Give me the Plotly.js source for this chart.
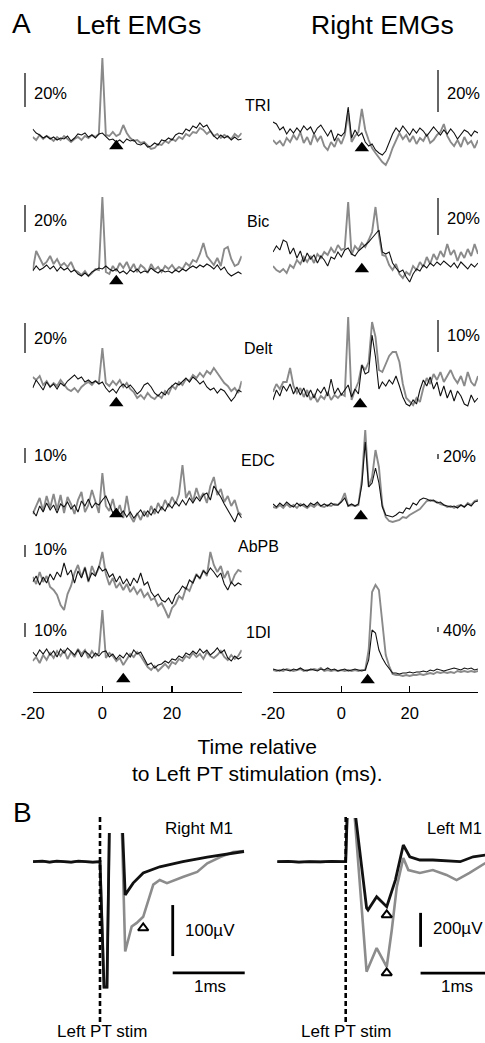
<!DOCTYPE html>
<html><head><meta charset="utf-8">
<script src="https://cdn.plot.ly/plotly-3.0.1.min.js"></script>
<style>html,body{margin:0;padding:0;background:#fff}#chart{width:485px;height:1043px}</style>
</head><body><div id="chart"></div>
<script>
// ---------- DATA ----------
// Panel A: time (ms) relative to Left PT stimulation
const t = [-20,-19,-18,-17,-16,-15,-14,-13,-12,-11,-10,-9,-8,-7,-6,-5,-4,-3,-2,-1,0,1,2,3,4,5,6,7,8,9,10,11,12,13,14,15,16,17,18,19,20,21,22,23,24,25,26,27,28,29,30,31,32,33,34,35,36,37,38,39,40];
const tickVals = [-20, 0, 20, 40];
const tickText = ['-20', '0', '20', ''];
const muscles = ['TRI', 'Bic', 'Delt', 'EDC', 'AbPB', '1DI'];
const scaleLeft = ['20%', '20%', '20%', '10%', '10%', '10%'];
const scaleRight = ['20%', '20%', '10%', '20%', null, '40%'];
const onsetLeft = [4, 4, 4, 4, null, 6];
const onsetRight = [6, 6, 5.5, 5.7, null, 7.7];

// Left EMGs (amplitude, relative units; black = one condition, gray = other)
const triL_black = [8,4,2,-1,1,-2,0,-3,-1,-2, 1,-4,-1,3,2,4,0,2,-1,3, 4,0,-3,-2,-5,-3,-6,-2,-4,-3, -7,-8,-6,-10,-9,-6,-8,-3,-4,-1, -3,2,4,3,8,6,11,9,14,10, 12,6,1,-2,2,-1,1,-3,0,-3,-2];
const triL_gray  = [0,-3,2,-2,1,-1,-4,0,-3,1, -2,-5,-2,0,-3,1,-1,2,0,3, 79,2,1,5,1,3,12,4,-1,-4, -3,-6,-5,-9,-12,-11,-7,-8,-4,-6, -2,-4,0,-2,3,1,5,4,9,7, 3,6,1,3,-1,2,0,-2,3,0,4];
const bicL_black = [-3,2,-2,0,3,-1,2,-3,1,-2, 0,-4,-2,-6,-8,-5,-8,-4,-2,0, -1,2,-1,-3,-1,-5,-3,-6,-2,-4, -1,-5,-3,-4,0,-3,-5,-2,-4,-3, -5,-2,-4,-1,-3,0,2,0,3,1, 4,2,-1,3,-2,1,-5,-8,-6,-4,-6];
const bicL_gray  = [-2,17,10,3,6,12,4,9,2,5, 1,6,-2,-4,-7,-3,-8,-5,-1,-2, 71,-4,-6,2,-3,5,0,6,-2,4, -4,3,0,-5,4,-2,1,-4,2,-1, 3,-2,1,-1,5,2,8,6,14,25, 12,8,3,10,2,19,21,9,2,4,12];
const deltL_black = [-5,3,-2,-7,1,-4,-1,-6,0,-3, 2,5,8,4,6,1,3,0,2,-1, 1,-5,-9,-6,-10,-4,-1,-5,-2,-6, -11,-8,-2,0,-4,-10,-13,-9,-12,-6, -3,0,-2,2,5,1,6,3,-1,2, -4,-7,-5,-10,-6,-8,-13,-18,-14,-7,-9];
const deltL_gray  = [6,3,7,-2,2,-4,0,-3,3,-1, -6,-8,-5,-9,-4,-1,1,-2,2,0, 35,0,-3,2,-2,3,-4,0,-6,-9, -15,-12,-16,-10,-14,-16,-12,-15,-8,-11, -3,-6,1,-2,4,2,8,5,10,6, 12,9,15,10,5,0,-3,-8,-5,-10,2];
const edcL_black = [-3,-8,2,-4,5,-2,3,-5,4,1, 6,-1,3,-4,7,2,9,0,5,3, 8,12,4,-5,-1,-7,-3,-9,-4,-10, -6,-2,-8,-3,-7,-1,-5,1,-3,4, 0,6,2,8,3,10,5,11,7,13, 15,8,22,17,11,4,-2,-8,-14,-5,-10];
const edcL_gray  = [-6,2,10,-3,12,0,14,-2,13,-5, 11,4,-6,8,16,-4,3,18,6,-5, 35,2,-3,9,-6,3,-10,12,-8,-14, -5,-12,-3,-9,2,-6,5,-2,8,1, 11,4,14,43,10,17,6,20,9,15, 5,22,31,13,19,6,12,2,8,-4,-7];
const abpbL_black = [-2,4,-5,3,-3,6,0,8,3,17, 5,10,-3,9,2,12,-1,7,4,14, 9,11,3,6,-2,4,-4,1,-6,2, -3,7,-5,-2,-12,-17,-14,-20,-22,-18, -24,-15,-12,-6,-9,0,-3,5,2,9, 6,12,8,3,7,-4,-10,-2,-6,-3,-5];
const abpbL_gray  = [3,-4,8,-2,4,-7,-10,-15,-25,-30, -14,-6,7,15,3,13,-2,14,5,12, 28,6,-5,2,-8,-3,-10,-4,-12,-7, -14,-9,-17,-13,-20,-18,-26,-23,-30,-38, -28,-24,-16,-19,-8,-11,-2,6,1,10, 4,28,15,8,14,2,9,-4,5,10,8];
const di1L_black = [3,-1,5,1,6,0,4,-2,6,2, 7,3,0,5,-2,4,1,-3,2,-1, 3,4,-2,1,-4,0,-3,2,-2,5, 1,3,-4,-10,-8,-13,-10,-9,-6,-8, -4,-5,-1,-3,2,0,4,1,6,2, 5,0,3,7,2,5,-3,-6,-1,-4,-2];
const di1L_gray  = [-6,-2,-8,0,-5,2,-3,4,-1,5, -4,3,-2,6,1,5,-3,4,-1,2, 45,-3,2,-1,-6,-3,-10,-5,1,-2, 3,-1,-7,-12,-15,-11,-16,-12,-9,-13, -7,-9,-4,-6,-1,-3,2,-2,1,-4, 3,-1,-3,0,4,-2,-5,0,-4,-1,5];

// Right EMGs
const triR_black = [16,14,8,11,4,9,5,10,6,12, 8,11,4,10,13,7,2,8,-3,4, 2,6,31,0,8,2,5,-4,-8,-6, -12,-15,-17,-13,-5,4,10,6,12,8, 3,9,5,10,7,2,6,11,7,3, 8,4,9,5,-1,3,8,6,2,7,5];
const triR_gray  = [-2,-6,-3,-8,0,-4,3,-2,6,-5, 1,-7,4,-3,2,-8,-12,-4,-9,0, -6,3,25,-4,2,6,29,8,-2,-10, -15,-20,-24,-27,-20,-10,-2,5,-1,3, -4,2,-6,0,-3,4,-5,-2,3,6, 14,2,-4,-8,-2,-9,1,-6,-3,-10,-2];
const bicR_black = [8,14,10,20,18,6,12,2,9,-2, 7,1,5,-3,4,0,-6,3,1,8, 3,10,12,6,4,9,12,15,18,22, 26,30,8,6,8,-3,-8,-12,-10,-17, -22,-14,-9,-11,-5,-8,-3,-6,-2,-5, -1,-4,-7,-3,-8,-2,-5,-9,-4,-7,-3];
const bicR_gray  = [-6,-10,-12,-9,-13,-5,-8,0,-4,3, -2,4,-3,6,2,8,5,12,7,15, 10,12,58,5,14,10,17,13,20,28, 53,25,5,4,-5,-10,-4,-14,-18,-12, -15,-6,-10,-2,-7,3,-4,6,0,9, 3,16,5,10,-1,8,2,11,4,16,6];
const deltR_black = [-8,2,-4,6,1,8,-2,5,-3,4, -5,2,-6,3,-1,5,-4,13,-2,4, -3,2,7,-5,3,-2,27,18,20,57, 35,3,10,6,12,8,16,6,-5,-12, -14,-8,-12,2,12,6,15,3,10,-4, 6,-6,2,-9,1,-4,-12,-14,-3,-10,-6];
const deltR_gray  = [0,8,3,10,10,24,6,-1,4,-5, 2,-8,-3,-10,-4,-7,0,-8,-3,-6, -2,-4,75,-8,2,10,27,22,30,70, 55,22,20,28,36,40,40,30,8,-6, -10,-13,-6,-10,4,14,8,18,12,20, 10,16,22,14,9,16,6,20,10,6,16];
const edcR_black = [1,-2,2,-1,3,0,-2,2,-1,1, -2,2,0,3,-1,1,-1,2,0,0, 3,7,-1,1,-1,1,20,63,18,22, 37,22,-2,-10,-11,-12,-10,-7,-8,-3, -4,2,0,5,7,6,4,5,2,3, 0,-1,-2,-1,-3,0,-2,1,-1,3,4];
const edcR_gray  = [-2,-3,0,-3,1,-2,0,-3,1,-1, -3,0,-2,1,-1,-2,0,-1,1,0, 4,12,-1,0,-1,0,25,75,18,28, 55,38,0,-12,-16,-17,-16,-15,-12,-13, -10,-8,-6,-4,0,4,5,4,3,1, 0,-2,-1,-3,-1,0,-2,2,0,4,5];
const di1R_black = [1,0,-1,1,0,-1,1,0,2,0, -1,1,0,-1,1,0,2,0,1,-1, 0,1,-1,0,1,0,-1,0,10,40, 37,20,12,6,1,-3,-3,-4,-3,-3, -2,-3,-2,-2,-1,-2,0,-1,1,0, -1,0,1,2,1,0,2,1,2,0,1];
const di1R_gray  = [0,-1,0,-1,1,0,-1,0,1,-1, 0,0,1,0,2,-1,0,-1,0,-1, 0,-1,0,-1,0,-1,0,0,20,78, 85,80,50,15,4,-4,-5,-5,-6,-5, -6,-5,-5,-4,-5,-4,-3,-4,-2,-3, -2,-3,-2,-3,-1,-2,-1,-2,-1,-2,-1];

// Panel B: cortical responses (time in ms, amplitude in microvolts)
const rM1_tBlack = [-0.93,-0.8,-0.7,-0.6,-0.5,-0.4,-0.3,-0.2,-0.1,0,0.056,0.097,0.139,0.2875,0.35,0.46,0.6,0.83,1.15,1.49,1.85,2.0];
const rM1_black  = [0,1,-1,1,0,-1,1,0,-1,0,-246,-246,150,150,-65,-42,-22,-10,0,9,17,20];
const rM1_tGray  = [-0.93,-0.8,-0.7,-0.6,-0.5,-0.4,-0.3,-0.2,-0.1,0,0.056,0.097,0.139,0.2875,0.35,0.44,0.51,0.6,0.67,0.74,0.83,0.93,1.15,1.35,1.49,1.67,1.85,2.0];
const rM1_gray   = [0,1,-1,1,0,-1,1,0,-1,0,-246,-246,150,150,-176,-127,-120,-108,-75,-45,-36,-42,-30,-20,-3,9,19,21];
const rM1_markT = [0.6];
const rM1_markV = [-130];
const lM1_tBlack = [-0.95,-0.8,-0.65,-0.5,-0.35,-0.2,-0.05,0,0.03,0.1,0.29,0.31,0.43,0.57,0.69,0.8,0.89,1.03,1.21,1.59,1.77,1.94];
const lM1_black  = [0,2,-2,1,-1,2,0,0,400,400,-272,-284,-206,-265,-108,98,29,10,10,0,29,39];
const lM1_tGray  = [-0.95,-0.8,-0.65,-0.5,-0.35,-0.2,-0.05,0,0.03,0.1,0.29,0.43,0.57,0.64,0.71,0.8,0.87,1.03,1.21,1.4,1.54,1.72,1.94];
const lM1_gray   = [0,2,-2,1,-1,2,0,0,400,400,-647,-508,-618,-402,-147,22,-49,-66,-49,-78,-108,-66,-8];
const lM1_markT = [0.57, 0.57];
const lM1_markV = [-313, -654];

// ---------- LAYOUT HELPERS ----------
const W = 485, H = 1043;
const fx = p => p / W;
const fy = p => 1 - p / H;
const GRAY = '#8a8a8a', BLACK = '#111';
const FONT = 'Liberation Sans, Arial, Helvetica, sans-serif';
function axPaper(ax, v) { const d = ax.domain, r = ax.range; return d[0] + (v - r[0]) / (r[1] - r[0]) * (d[1] - d[0]); }

// per-subplot geometry (pixels): plot band top/bottom, baseline, triangle offset, scale bar (units rel. baseline)
const rowsLeft = [
  {black: triL_black, gray: triL_gray, top: 50, bot: 160, base: 137, triDy: -9, bar: [30, 64], pctY: 93},
  {black: bicL_black, gray: bicL_gray, top: 190, bot: 290, base: 268, triDy: -13, bar: [36, 63], pctY: 220},
  {black: deltL_black, gray: deltL_gray, top: 330, bot: 415, base: 383, triDy: -20, bar: [30, 60], pctY: 338},
  {black: edcL_black, gray: edcL_gray, top: 455, bot: 530, base: 508, triDy: -6, bar: [45, 60], pctY: 455},
  {black: abpbL_black, gray: abpbL_gray, top: 540, bot: 625, base: 580, triDy: 0, bar: [23, 35], pctY: 549},
  {black: di1L_black, gray: di1L_gray, top: 605, bot: 691.7, base: 655, triDy: -24, bar: [18, 32], pctY: 630}
];
const rowsRight = [
  {black: triR_black, gray: triR_gray, top: 95, bot: 175, base: 138, triDy: -10, bar: [26, 68], pctY: 93, pctX: 445},
  {black: bicR_black, gray: bicR_gray, top: 195, bot: 290, base: 260, triDy: -9, bar: [25, 62], pctY: 218, pctX: 445},
  {black: deltR_black, gray: deltR_gray, top: 305, bot: 415, base: 392, triDy: -12, bar: [40, 72], pctY: 335, pctX: 445},
  {black: edcR_black, gray: edcR_gray, top: 420, bot: 530, base: 505, triDy: -11, bar: [46, 51], pctY: 456, pctX: 441},
  null,
  {black: di1R_black, gray: di1R_gray, top: 575, bot: 691.7, base: 670, triDy: -10, bar: [38, 43], pctY: 630, pctX: 441}
];
const labelY = [106, 221.5, 349, 460, 546.5, 632.5];

const traces = [];
const layout = {
  width: W, height: H, margin: {l: 0, r: 0, t: 0, b: 0},
  paper_bgcolor: '#fff', plot_bgcolor: 'rgba(0,0,0,0)', showlegend: false,
  font: {family: FONT, color: '#000'}, shapes: [], annotations: [], hovermode: false
};
const xBase = {
  range: [-20, 40], anchor: 'free', position: fy(691.7), showline: true, linecolor: '#000', linewidth: 1.2,
  ticks: 'inside', ticklen: 6, tickwidth: 1.2, tickcolor: '#000', tickvals: tickVals, ticktext: tickText,
  tickfont: {size: 16.5, family: FONT, color: '#000'}, showgrid: false, zeroline: false, fixedrange: true,
  ticklabelstandoff: 6
};
layout.xaxis = Object.assign({}, xBase, {domain: [fx(32.7), fx(241.7)]});
layout.xaxis2 = Object.assign({}, xBase, {domain: [fx(273), fx(478)]});

function ann(text, x, y, size, xanchor, extra) {
  layout.annotations.push(Object.assign({text, x: fx(x), y: fy(y), xref: 'paper', yref: 'paper', showarrow: false,
    xanchor: xanchor || 'center', yanchor: 'middle', font: {size, family: FONT, color: '#000'}}, extra || {}));
}

let yi = 0;
function addRow(r, col, idx) {
  yi += 1;
  const ykey = yi === 1 ? 'yaxis' : 'yaxis' + yi;
  const yref = yi === 1 ? 'y' : 'y' + yi;
  const xref = col === 0 ? 'x' : 'x2';
  const ax = {domain: [fy(r.bot), fy(r.top)], range: [-(r.bot - r.base), r.base - r.top], visible: false, fixedrange: true, anchor: xref};
  layout[ykey] = ax;
  traces.push({x: t, y: r.gray, xaxis: xref, yaxis: yref, mode: 'lines', line: {color: GRAY, width: 1.9}});
  traces.push({x: t, y: r.black, xaxis: xref, yaxis: yref, mode: 'lines', line: {color: BLACK, width: 1.1}});
  const onset = col === 0 ? onsetLeft[idx] : onsetRight[idx];
  if (onset != null) {
    traces.push({x: [onset], y: [r.triDy], xaxis: xref, yaxis: yref, mode: 'markers', cliponaxis: false,
      marker: {symbol: 'triangle-up', size: 12.5, color: '#000'}});
  }
  const bx = col === 0 ? 25 : 438;
  layout.shapes.push({type: 'line', xref: 'paper', yref: 'paper', x0: fx(bx), x1: fx(bx),
    y0: axPaper(ax, r.bar[0]), y1: axPaper(ax, r.bar[1]), line: {color: '#333', width: 1.5}});
  const txt = col === 0 ? scaleLeft[idx] : scaleRight[idx];
  layout.annotations.push({text: txt, x: fx(col === 0 ? 32 : r.pctX), y: fy(r.pctY), xref: 'paper', yref: 'paper',
    showarrow: false, xanchor: 'left', yanchor: 'middle', font: {size: 16.5, family: FONT, color: '#000'}});
}
rowsLeft.forEach((r, i) => addRow(r, 0, i));
rowsRight.forEach((r, i) => { if (r) addRow(r, 1, i); });
muscles.forEach((m, i) => ann(m, 258, labelY[i], 16));

// Panel A headings
ann('A', 21, 23, 28);
ann('Left EMGs', 138, 25, 26.5);
ann('Right EMGs', 382.5, 25, 26.5);
ann('Time relative<br>to Left PT stimulation (ms).', 257, 759.5, 21);

// ---------- PANEL B ----------
function addB(xkey, xref, ykey, yref, pxX, stimPx, pxPerMs, pxTop, pxBot, base, pxPerUv, series, marks) {
  const xa = {domain: [fx(pxX[0]), fx(pxX[1])], range: [(pxX[0] - stimPx) / pxPerMs, (pxX[1] - stimPx) / pxPerMs],
    visible: false, fixedrange: true, anchor: yref};
  const ya = {domain: [fy(pxBot), fy(pxTop)], range: [-(pxBot - base) / pxPerUv, (base - pxTop) / pxPerUv],
    visible: false, fixedrange: true, anchor: xref};
  layout[xkey] = xa; layout[ykey] = ya;
  traces.push({x: series.tg, y: series.g, xaxis: xref, yaxis: yref, mode: 'lines', line: {color: '#8c8c8c', width: 2.6}});
  traces.push({x: series.tb, y: series.b, xaxis: xref, yaxis: yref, mode: 'lines', line: {color: BLACK, width: 2.8}});
  traces.push({x: marks.t, y: marks.v, xaxis: xref, yaxis: yref, mode: 'markers', cliponaxis: false,
    marker: {symbol: 'triangle-up-open', size: 9, color: '#000', line: {width: 2, color: '#000'}}});
  // stimulation line
  const sx = axPaper(xa, 0);
  layout.shapes.push({type: 'line', xref: 'paper', yref: 'paper', x0: sx, x1: sx, y0: fy(1022), y1: fy(815),
    line: {color: '#000', width: 2.6, dash: '5px,3px'}});
  return {xa, ya};
}
const bl = addB('xaxis3', 'x3', 'yaxis12', 'y12', [33, 245], 100, 72, 833, 1000, 861.7, 0.51,
  {tb: rM1_tBlack, b: rM1_black, tg: rM1_tGray, g: rM1_gray}, {t: rM1_markT, v: rM1_markV});
const br = addB('xaxis4', 'x4', 'yaxis13', 'y13', [277, 485], 345.7, 72, 818, 1000, 861.7, 0.17,
  {tb: lM1_tBlack, b: lM1_black, tg: lM1_tGray, g: lM1_gray}, {t: lM1_markT, v: lM1_markV});

// scale bars for panel B (1 ms horizontal, µV vertical)
function bar(xa, ya, x0, x1, y0, y1) {
  layout.shapes.push({type: 'line', xref: 'paper', yref: 'paper', x0: axPaper(xa, x0), x1: axPaper(xa, x1),
    y0: axPaper(ya, y0), y1: axPaper(ya, y1), line: {color: '#000', width: 2.8}});
}
bar(bl.xa, bl.ya, 1.01, 2.01, -218, -218);
bar(bl.xa, bl.ya, 1.01, 1.01, -185, -85);
bar(br.xa, br.ya, 1.04, 2.04, -655, -655);
bar(br.xa, br.ya, 1.04, 1.04, -501, -301);

ann('B', 22.5, 812, 28);
ann('Right M1', 235, 828, 17, 'right');
ann('Left M1', 484, 828, 16.5, 'right');
ann('100µV', 183, 930, 17, 'left');
ann('200µV', 431, 928, 17, 'left');
ann('1ms', 210, 986, 17);
ann('1ms', 457, 986, 17);
ann('Left PT stim', 102, 1031, 17);
ann('Left PT stim', 346, 1031, 17);

Plotly.newPlot('chart', traces, layout, {staticPlot: true, displayModeBar: false});
</script>
</body></html>
